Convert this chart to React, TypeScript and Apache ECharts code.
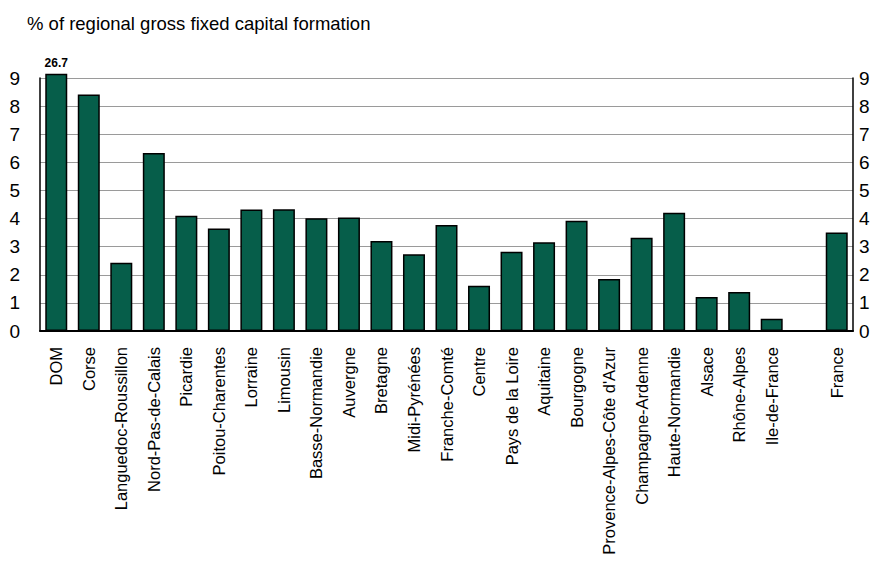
import React, { useEffect, useRef } from "react";
import * as echarts from "echarts";

const categories = [
  "DOM", "Corse", "Languedoc-Roussillon", "Nord-Pas-de-Calais", "Picardie",
  "Poitou-Charentes", "Lorraine", "Limousin", "Basse-Normandie", "Auvergne",
  "Bretagne", "Midi-Pyrénées", "Franche-Comté", "Centre", "Pays de la Loire",
  "Aquitaine", "Bourgogne", "Provence-Alpes-Côte d'Azur", "Champagne-Ardenne",
  "Haute-Normandie", "Alsace", "Rhône-Alpes", "Ile-de-France", "", "France",
];

const values: (number | null)[] = [
  26.7, 8.41, 2.43, 6.33, 4.1, 3.65, 4.32, 4.33, 4.01, 4.04, 3.2, 2.73, 3.77,
  1.61, 2.82, 3.16, 3.92, 1.85, 3.32, 4.21, 1.21, 1.39, 0.44, null, 3.5,
];

const yTicks = [0, 1, 2, 3, 4, 5, 6, 7, 8, 9];
const axisMax = 9;
const breakCap = 9.15;
const title = "% of regional gross fixed capital formation";

export default function App() {
  const ref = useRef<HTMLDivElement>(null);
  useEffect(() => {
    if (!ref.current) return;
    const chart = echarts.init(ref.current, null, { renderer: "svg" });
    const font = "Liberation Sans, Arial, sans-serif";
    const data = values.map((v) => {
      if (v === null) return null;
      if (v > axisMax) {
        return {
          value: breakCap,
          label: {
            show: true,
            position: "top",
            formatter: String(v),
            fontWeight: "bold",
            fontSize: 12,
            color: "#000",
            fontFamily: font,
            distance: 5,
          },
        };
      }
      return v;
    });
    const yAxisBase = {
      type: "value",
      min: yTicks[0],
      max: axisMax,
      interval: 1,
      axisLine: { show: true, lineStyle: { color: "#000", width: 1.5 } },
      axisTick: { show: false },
    };
    chart.setOption({
      animation: false,
      title: {
        text: title,
        left: 22,
        top: 9,
        textStyle: { fontSize: 18.5, fontWeight: "normal", color: "#000", fontFamily: font },
      },
      grid: { left: 40, right: 27, top: 78, bottom: 232, containLabel: false },
      xAxis: {
        type: "category",
        data: categories,
        axisLine: { show: true, lineStyle: { color: "#000", width: 2 } },
        axisTick: { show: false },
        axisLabel: {
          rotate: 90,
          interval: 0,
          fontSize: 16.5,
          color: "#000",
          fontFamily: font,
          margin: 16,
        },
      },
      yAxis: [
        {
          ...yAxisBase,
          position: "left",
          splitLine: { show: true, lineStyle: { color: "#9a9a9a", width: 1 } },
          axisLabel: { fontSize: 19, color: "#000", fontFamily: font, margin: 20 },
        },
        {
          ...yAxisBase,
          position: "right",
          splitLine: { show: false },
          axisLabel: { fontSize: 19, color: "#000", fontFamily: font, margin: 6 },
        },
      ],
      series: [
        {
          type: "bar",
          data,
          clip: false,
          barWidth: 22,
          itemStyle: { color: "#065e4a", borderColor: "#000", borderWidth: 1.5 },
        },
      ],
    });
    return () => chart.dispose();
  }, []);
  return (
    <div
      ref={ref}
      style={{ position: "absolute", left: 0, top: 0, width: 880, height: 563 }}
    />
  );
}
